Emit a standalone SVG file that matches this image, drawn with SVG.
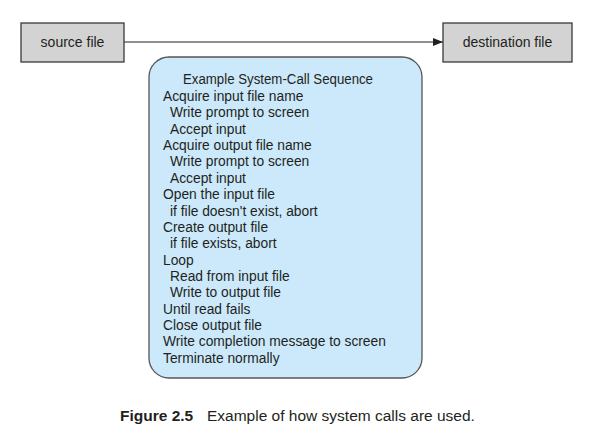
<svg xmlns="http://www.w3.org/2000/svg" width="595" height="428" viewBox="0 0 595 428">
<style>
.box{fill:#d3d3d3;stroke:#3a3a3a;stroke-width:1.3}
.lbl{font-family:"Liberation Sans",Arial,sans-serif;font-size:14px;fill:#231f20}
.seq{font-family:"Liberation Sans",Arial,sans-serif;font-size:13.8px;fill:#231f20}
.cap{font-family:"Liberation Sans",Arial,sans-serif;font-size:15.5px;fill:#231f20}
</style>
<defs>
<marker id="ah" markerWidth="10" markerHeight="8" refX="10" refY="4" orient="auto" markerUnits="userSpaceOnUse">
<path d="M0,0 L10,4 L0,8 Z" fill="#231f20"/>
</marker>
</defs>
<rect width="595" height="428" fill="#fff"/>
<g id="connectors">
<line x1="124" y1="42" x2="443" y2="42" stroke="#231f20" stroke-width="1" marker-end="url(#ah)"/>
</g>
<g id="source">
<rect class="box" x="21" y="23" width="103" height="39"/>
<text class="lbl" x="72.5" y="47" text-anchor="middle">source file</text>
</g>
<g id="destination">
<rect class="box" x="443" y="23" width="129" height="39"/>
<text class="lbl" x="507.5" y="47" text-anchor="middle">destination file</text>
</g>
<g id="sequence">
<rect x="149" y="57" width="273" height="321" rx="20" ry="20" fill="#cbe9fb" stroke="#555" stroke-width="1.3"/>
<text class="seq" x="183" y="83.5" textLength="190" lengthAdjust="spacingAndGlyphs">Example System-Call Sequence</text>
<text class="seq" x="163" y="101">Acquire input file name</text>
<text class="seq" x="170" y="117.4">Write prompt to screen</text>
<text class="seq" x="170" y="133.7">Accept input</text>
<text class="seq" x="163" y="150">Acquire output file name</text>
<text class="seq" x="170" y="166.4">Write prompt to screen</text>
<text class="seq" x="170" y="182.8">Accept input</text>
<text class="seq" x="163" y="199.1">Open the input file</text>
<text class="seq" x="170" y="215.5">if file doesn't exist, abort</text>
<text class="seq" x="163" y="231.8">Create output file</text>
<text class="seq" x="170" y="248.2">if file exists, abort</text>
<text class="seq" x="163" y="264.5">Loop</text>
<text class="seq" x="170" y="280.9">Read from input file</text>
<text class="seq" x="170" y="297.2">Write to output file</text>
<text class="seq" x="163" y="313.6">Until read fails</text>
<text class="seq" x="163" y="329.9">Close output file</text>
<text class="seq" x="163" y="346.3">Write completion message to screen</text>
<text class="seq" x="163" y="362.6">Terminate normally</text>
</g>
<g id="caption">
<text class="cap" x="120" y="421"><tspan font-weight="bold">Figure 2.5</tspan><tspan x="207">Example of how system calls are used.</tspan></text>
</g>
</svg>
